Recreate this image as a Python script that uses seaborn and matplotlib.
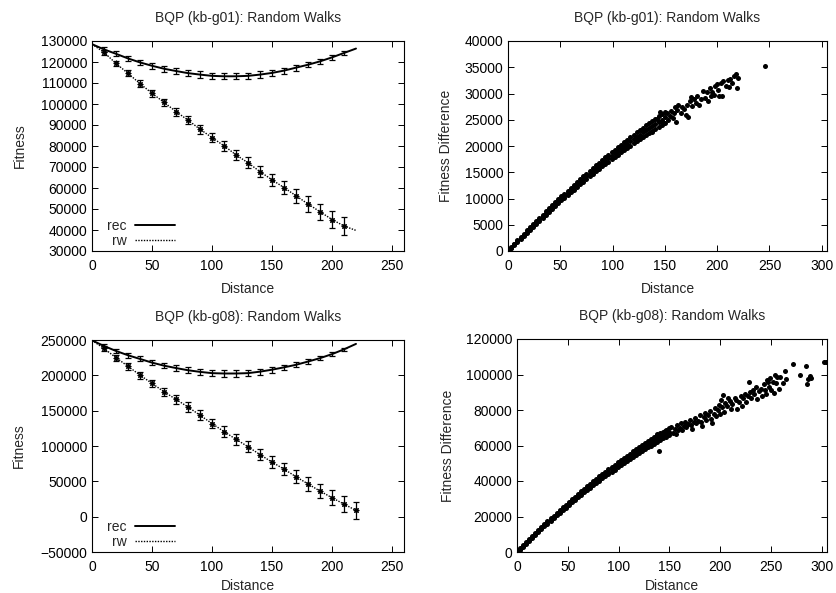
import numpy as np
import matplotlib
matplotlib.use("Agg")
import matplotlib.pyplot as plt
import seaborn as sns

# --- random-walk fitness curves (every 10 steps); err 0 = no bar drawn ---
dist = [0, 10, 20, 30, 40, 50, 60, 70, 80, 90, 100, 110, 120, 130, 140, 150,
        160, 170, 180, 190, 200, 210, 220]

g01_rec = [128500, 126000, 123900, 121700, 119800, 118200, 116800, 115700, 114700, 114000,
           113400, 113200, 113200, 113400, 114000, 114800, 115900, 117300, 118700, 120300,
           122200, 124300, 126400]
g01_rec_err = [0, 1100, 1200, 1200, 1300, 1300, 1400, 1400, 1400, 1500, 1500, 1500, 1500,
               1500, 1500, 1500, 1400, 1400, 1300, 1200, 1100, 1000, 0]
g01_rw = [128500, 124600, 119300, 114600, 109700, 105100, 100800, 96400, 92300, 88000,
          84000, 80100, 75800, 72000, 67800, 63900, 60200, 56300, 52400, 48700,
          45000, 41900, 39800]
g01_rw_err = [0, 1200, 1300, 1400, 1500, 1700, 1800, 1900, 2000, 2100, 2300, 2400, 2500,
              2700, 2800, 3000, 3200, 3400, 3600, 3800, 4000, 4300, 0]

g08_rec = [249500, 241500, 234500, 228400, 223200, 218000, 213700, 210300, 207200, 204900,
           203100, 202600, 202600, 203100, 205200, 208000, 211300, 214900, 219500, 224300,
           230000, 236800, 244500]
g08_rec_err = [0, 2600, 3000, 3300, 3600, 3800, 4000, 4200, 4300, 4400, 4400, 4400, 4400,
               4400, 4300, 4200, 4000, 3800, 3500, 3200, 2900, 2500, 0]
g08_rw = [249500, 238000, 225000, 212800, 200300, 188600, 176800, 166000, 155200, 143600,
          131800, 120400, 109500, 99000, 87800, 77200, 67300, 56500, 46300, 36200,
          26800, 17800, 8800]
g08_rw_err = [0, 4000, 4300, 4600, 5000, 5400, 5800, 6100, 6400, 6700, 7000, 7300, 7600,
              7900, 8200, 8500, 8900, 9300, 9700, 10100, 10500, 11000, 11500]

# --- fitness difference scatter, kb-g01 (dense band edges + sparse tail) ---
g01_band_d = [0, 3, 6, 9, 12, 15, 18, 21, 24, 27, 30, 33, 36, 39, 42, 45, 48, 51, 54, 57,
              60, 63, 66, 69, 72, 75, 78, 81, 84, 87, 90, 93, 96, 99, 102, 105, 108, 111,
              114, 117, 120, 123, 126, 129, 132, 135, 138, 141, 144, 147, 150]
g01_band_lo = [0, 480, 1080, 1680, 2270, 2860, 3450, 4030, 4610, 5190, 5760, 6330, 6890,
               7450, 8000, 8550, 9090, 9620, 10150, 10680, 11200, 11710, 12220, 12730, 13230,
               13720, 14210, 14690, 15170, 15640, 16110, 16570, 17030, 17480, 17930, 18370,
               18810, 19240, 19670, 20090, 20510, 20920, 21330, 21740, 22140, 22530, 22920,
               23300, 23680, 24050, 24420]
g01_band_mid = [0, 630, 1250, 1870, 2480, 3090, 3690, 4290, 4880, 5470, 6060, 6640, 7210,
                7780, 8340, 8900, 9460, 10010, 10550, 11090, 11630, 12160, 12680, 13210,
                13720, 14230, 14740, 15240, 15740, 16230, 16710, 17200, 17670, 18140, 18610,
                19070, 19530, 19980, 20430, 20870, 21310, 21750, 22170, 22600, 23020, 23430,
                23840, 24240, 24640, 25040, 25430]
g01_band_hi = [150, 780, 1420, 2060, 2690, 3320, 3940, 4550, 5160, 5760, 6350, 6940, 7530,
               8110, 8690, 9260, 9830, 10390, 10950, 11500, 12050, 12600, 13140, 13680, 14210,
               14740, 15260, 15780, 16300, 16810, 17320, 17820, 18320, 18810, 19300, 19780,
               20260, 20730, 21200, 21660, 22120, 22580, 23030, 23470, 23910, 24350, 24780,
               25200, 25620, 26040, 26450]
g01_out_d = [138, 142, 145, 148, 152, 153, 155, 156, 158, 159, 160, 161, 162, 163, 165, 166,
             168, 170, 171, 172, 174, 175, 176, 178, 180, 181, 183, 185, 186, 188, 190, 191,
             193, 194, 195, 197, 198, 200, 201, 202, 204, 205, 206, 208, 210, 211, 212, 214,
             216, 218, 219, 220, 246]
g01_out_y = [22600, 25100, 26500, 24400, 26300, 24900, 25800, 26700, 25300, 26200, 27400,
             24600, 26800, 27800, 26200, 27500, 27000, 26000, 27800, 25600, 28500, 29300,
             27600, 28900, 28200, 29500, 27900, 29000, 30500, 29200, 30300, 28600, 31000,
             29500, 30200, 29700, 31400, 31800, 30600, 29600, 32000, 29600, 32400, 31500,
             32600, 31200, 32800, 32000, 33300, 33700, 31000, 32900, 35200]

# --- fitness difference scatter, kb-g08 ---
g08_band_d = g01_band_d
g08_band_lo = [0, 1400, 3080, 4750, 6400, 8040, 9670, 11270, 12860, 14430, 16000, 17540,
               19070, 20590, 22080, 23570, 25040, 26490, 27930, 29350, 30760, 32160, 33530,
               34890, 36230, 37570, 38890, 40180, 41470, 42740, 44000, 45240, 46460, 47670,
               48860, 50040, 51210, 52350, 53480, 54590, 55700, 56790, 57860, 58920, 59950,
               60980, 61990, 62980, 63960, 64920, 65880]
g08_band_mid = [0, 1730, 3450, 5150, 6840, 8510, 10170, 11810, 13430, 15040, 16640, 18210,
                19780, 21330, 22860, 24380, 25880, 27370, 28840, 30300, 31740, 33170, 34580,
                35970, 37350, 38720, 40070, 41400, 42720, 44030, 45320, 46590, 47850, 49090,
                50320, 51530, 52730, 53910, 55070, 56220, 57360, 58480, 59590, 60680, 61750,
                62810, 63850, 64880, 65890, 66890, 67880]
g08_band_hi = [300, 2060, 3820, 5550, 7280, 8980, 10670, 12350, 14000, 15650, 17280, 18880,
               20490, 22070, 23640, 25190, 26720, 28250, 29750, 31250, 32720, 34180, 35630,
               37050, 38470, 39870, 41250, 42620, 43970, 45320, 46640, 47940, 49240, 50510,
               51780, 53020, 54250, 55470, 56660, 57850, 59020, 60170, 61320, 62440, 63550,
               64640, 65710, 66780, 67820, 68860, 69880]
g08_out_d = [138, 140, 146, 152, 153, 155, 156, 157, 158, 160, 161, 162, 164, 165, 166, 168,
             170, 171, 172, 174, 175, 176, 178, 180, 181, 182, 184, 185, 186, 188, 190, 191,
             192, 194, 195, 196, 198, 199, 200, 201, 202, 203, 204, 205, 207, 208, 210, 211,
             212, 214, 215, 216, 218, 220, 221, 222, 224, 225, 227, 228, 229, 230, 232, 233,
             235, 236, 238, 240, 241, 243, 244, 245, 246, 247, 248, 249, 250, 252, 253, 254,
             255, 256, 258, 259, 262, 264, 265, 272, 278, 284, 285, 286, 288, 289, 302, 304]
g08_out_y = [66500, 56700, 68000, 70500, 67000, 69500, 66500, 71500, 68500, 70000, 72500,
             69000, 71000, 73500, 70200, 72000, 74500, 71500, 69500, 73000, 75500, 72500,
             74000, 77000, 73500, 71000, 76000, 78500, 74500, 77000, 79500, 75000, 72500,
             78000, 81000, 76500, 80000, 83000, 78000, 85500, 81500, 88500, 79000, 84000,
             82000, 86500, 85000, 80500, 83500, 87000, 85500, 80500, 84500, 88000, 82000,
             86500, 89000, 84500, 88000, 96000, 90000, 87000, 91500, 89000, 93000, 86000,
             90500, 92000, 88000, 94500, 91000, 89000, 97000, 95500, 93000, 98000, 91500,
             96000, 89500, 100000, 95000, 98500, 92000, 98800, 95000, 102000, 97500, 106000,
             100000, 105000, 94500, 97500, 99000, 98000, 107000, 106800]

sns.set_theme(style="ticks")
plt.rcParams["font.family"] = ["Liberation Sans", "DejaVu Sans"]
FS = 10

fig = plt.figure(figsize=(8.36, 5.93), dpi=100)
W, H = 836, 593


def px_axes(left, top, right, bottom):
    return fig.add_axes([left / W, 1 - bottom / H, (right - left) / W, (bottom - top) / H])


def style_axes(ax, title, ylabel, ylabelpad, xlabelpad):
    ax.set_title(title, fontsize=FS, pad=14)
    ax.set_xlabel("Distance", fontsize=FS, labelpad=xlabelpad)
    ax.set_ylabel(ylabel, fontsize=FS, labelpad=ylabelpad)
    ax.tick_params(direction="in", top=True, right=True, length=4, width=0.7,
                   labelsize=FS, colors="black")
    ax.tick_params(axis="x", pad=6)
    for s in ax.spines.values():
        s.set_linewidth(0.8)
        s.set_color("black")


def bars(ax, y, err, **kw):
    keep = [i for i, e in enumerate(err) if e > 0]
    ax.errorbar([dist[i] for i in keep], [y[i] for i in keep], yerr=[err[i] for i in keep],
                color="black", elinewidth=0.9, capsize=2, capthick=0.9, **kw)


def walk_panel(ax, rec, rec_err, rw, rw_err, title, ylim, yticks, xlabelpad):
    sns.lineplot(x=dist, y=rec, ax=ax, color="black", linewidth=1.4, label="rec")
    sns.lineplot(x=dist, y=rw, ax=ax, color="black", linewidth=1.0, linestyle=(0, (1, 1)),
                 label="rw")
    bars(ax, rec, rec_err, fmt="none")
    bars(ax, rw, rw_err, fmt="none")
    keep = [i for i, e in enumerate(rw_err) if e > 0]
    ax.plot([dist[i] for i in keep], [rw[i] for i in keep], linestyle="none",
            marker=(8, 2, 0), markersize=4, markeredgewidth=0.8, color="black")
    ax.set_xlim(0, 260)
    ax.set_xticks([0, 50, 100, 150, 200, 250])
    ax.set_ylim(*ylim)
    ax.set_yticks(yticks)
    style_axes(ax, title, "Fitness", 10, xlabelpad)
    ax.legend(loc="lower left", frameon=False, markerfirst=False, handlelength=2.9,
              labelspacing=0.05, borderaxespad=0.0, fontsize=FS, handletextpad=0.6,
              bbox_to_anchor=(0.03, -0.01))


def diff_panel(ax, band_d, band_lo, band_mid, band_hi, out_d, out_y, title, ylim, yticks,
               xlabelpad):
    xs = band_d + band_d + band_d + out_d
    ys = band_lo + band_mid + band_hi + out_y
    sns.scatterplot(x=xs, y=ys, ax=ax, color="black", s=13, linewidth=0)
    ax.set_xlim(0, 305)
    ax.set_xticks([0, 50, 100, 150, 200, 250, 300])
    ax.set_ylim(*ylim)
    ax.set_yticks(yticks)
    style_axes(ax, title, "Fitness Difference", 8, xlabelpad)


ax1 = px_axes(92, 41, 404, 251)
walk_panel(ax1, g01_rec, g01_rec_err, g01_rw, g01_rw_err, "BQP (kb-g01): Random Walks",
           (30000, 130000), range(30000, 130001, 10000), 6)

ax2 = px_axes(508, 41, 827, 251)
diff_panel(ax2, g01_band_d, g01_band_lo, g01_band_mid, g01_band_hi, g01_out_d, g01_out_y,
           "BQP (kb-g01): Random Walks", (0, 40000), range(0, 40001, 5000), 6)

ax3 = px_axes(92, 340, 404, 552)
walk_panel(ax3, g08_rec, g08_rec_err, g08_rw, g08_rw_err, "BQP (kb-g08): Random Walks",
           (-50000, 250000), range(-50000, 250001, 50000), 3)

ax4 = px_axes(517, 339, 827, 552)
diff_panel(ax4, g08_band_d, g08_band_lo, g08_band_mid, g08_band_hi, g08_out_d, g08_out_y,
           "BQP (kb-g08): Random Walks", (0, 120000), range(0, 120001, 20000), 3)

fig.savefig("out.png", dpi=100)
